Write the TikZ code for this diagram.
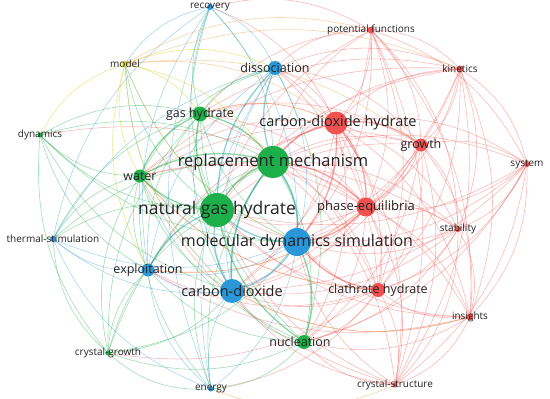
\documentclass[tikz,border=0pt]{standalone}
\usepackage{fontspec}
\setmainfont{Open Sans}
\usetikzlibrary{backgrounds}
\definecolor{vred}{HTML}{F03E3E}
\definecolor{vgreen}{HTML}{1DB04A}
\definecolor{vblue}{HTML}{2A98D8}
\definecolor{vyellow}{HTML}{D4D41E}
\definecolor{vorange}{HTML}{F0A040}
\definecolor{lbl}{HTML}{222222}
\tikzset{
  vnode/.style={circle, inner sep=0pt, minimum size=#1},
  rn/.style={vnode=#1, fill=vred!90!white},
  gn/.style={vnode=#1, fill=vgreen},
  bn/.style={vnode=#1, fill=vblue},
  yn/.style={vnode=#1, fill=vyellow},
  lab/.style={text=lbl, inner sep=0pt, anchor=center, font=\fontsize{#1}{#1}\selectfont},
  redge/.style={draw=vred, draw opacity=0.36, line width=0.6pt},
  gedge/.style={draw=vgreen, draw opacity=0.42, line width=0.6pt},
  bedge/.style={draw=vblue, draw opacity=0.4, line width=0.6pt},
  yedge/.style={draw=vyellow, draw opacity=0.5, line width=0.6pt},
  oedge/.style={draw=vorange, draw opacity=0.45, line width=0.6pt},
  strong/.style={line width=1.6pt, draw opacity=0.3},
}
% curved connector that bulges away from the picture centre
\newcommand\vedge[3]{%
  \path (#2.center); \pgfgetlastxy{\vax}{\vay}%
  \path (#3.center); \pgfgetlastxy{\vbx}{\vby}%
  \pgfmathsetmacro\vcr{(\vbx-\vax)/100*(-200pt-\vay)-(\vby-\vay)/100*(275pt-\vax)}%
  \ifdim\vcr pt>0pt
    \draw[#1] (#2.center) to[bend right=22] (#3.center);%
  \else
    \draw[#1] (#2.center) to[bend left=22] (#3.center);%
  \fi}
\begin{document}
\begin{tikzpicture}[x=1pt,y=-1pt]
\useasboundingbox (0,0) rectangle (550,399);
% circles
\node[bn=6pt] (rec) at (210,7) {};
\node[yn=6pt] (mod) at (125,64) {};
\node[bn=14pt] (dis) at (275,68) {};
\node[gn=15pt] (gh) at (200,114) {};
\node[gn=5pt] (dyn) at (40,135) {};
\node[gn=13pt] (wat) at (140,176) {};
\node[rn=7pt] (pf) at (371,30) {};
\node[rn=7pt] (kin) at (460,69) {};
\node[rn=23pt] (cdh) at (336,123) {};
\node[rn=13pt] (gro) at (421,145) {};
\node[rn=6pt] (sys) at (527,164) {};
\node[gn=32pt] (rm) at (273,162) {};
\node[gn=34pt] (ngh) at (217,210) {};
\node[rn=19pt] (pe) at (366,207) {};
\node[bn=28pt] (mds) at (297,242) {};
\node[bn=13pt] (exp) at (148,270) {};
\node[bn=24pt] (cd) at (232,291) {};
\node[rn=14pt] (clh) at (378,290) {};
\node[rn=6pt] (stab) at (458,229) {};
\node[bn=6pt] (ts) at (53,239) {};
\node[rn=7pt] (ins) at (470,317) {};
\node[gn=14pt] (nuc) at (304,342) {};
\node[gn=5pt] (cg) at (108,353) {};
\node[bn=5pt] (en) at (211,389) {};
\node[rn=5pt] (cs) at (395,385) {};
% connectors
\begin{scope}[on background layer]
\foreach \b in {rm,ngh,mds,cd,pe,dis,gh,wat,clh,gro,exp,nuc,pf,kin,sys,stab,ins,cs,rec}
  \vedge{redge}{cdh}{\b};
\foreach \b in {rm,ngh,mds,cd,dis,gh,wat,clh,gro,exp,nuc,pf,kin,sys,stab,ins,cs,dyn}
  \vedge{redge}{pe}{\b};
\foreach \b in {rm,ngh,mds,cd,dis,gh,wat,gro,exp,nuc,pf,kin,sys,stab,ins,cs,cg,en}
  \vedge{redge}{clh}{\b};
\foreach \b in {rm,ngh,mds,cd,dis,gh,wat,nuc,pf,kin,sys,stab,ins,cs}
  \vedge{redge}{gro}{\b};
\foreach \b in {rm,ngh,mds,cd,kin,sys,stab,ins,cs,dis,gh,rec}
  \vedge{redge}{pf}{\b};
\foreach \b in {rm,ngh,mds,cd,sys,stab,ins,cs,dis,gh,wat}
  \vedge{redge}{kin}{\b};
\foreach \b in {rm,ngh,mds,cd,stab,ins,cs,nuc}
  \vedge{redge}{sys}{\b};
\foreach \b in {rm,ngh,mds,cd,ins,cs,nuc,wat}
  \vedge{redge}{stab}{\b};
\foreach \b in {rm,ngh,mds,cd,cs,nuc,exp}
  \vedge{redge}{ins}{\b};
\foreach \b in {rm,ngh,mds,cd,nuc,wat}
  \vedge{redge}{cs}{\b};
\foreach \b in {ngh,mds,cd,dis,gh,wat,exp,nuc,rec,ts,en,cg,dyn}
  \vedge{gedge}{rm}{\b};
\foreach \b in {mds,cd,dis,gh,wat,exp,nuc,rec,ts,en,cg,dyn,mod}
  \vedge{gedge}{ngh}{\b};
\foreach \b in {mds,cd,dis,wat,exp,nuc,rec,dyn,cg,ts}
  \vedge{gedge}{gh}{\b};
\foreach \b in {mds,cd,dis,exp,nuc,dyn,cg,ts,en}
  \vedge{gedge}{wat}{\b};
\foreach \b in {mds,cd,dis,exp,cg,en}
  \vedge{gedge}{nuc}{\b};
\foreach \b in {mds,cd,exp,cg}
  \vedge{gedge}{dyn}{\b};
\foreach \b in {mds,cd,exp,en,ts}
  \vedge{gedge}{cg}{\b};
\foreach \b in {cd,dis,exp,rec,ts,en,mod}
  \vedge{bedge}{mds}{\b};
\foreach \b in {dis,exp,rec,ts,en,mod}
  \vedge{bedge}{cd}{\b};
\foreach \b in {exp,rec,ts,en}
  \vedge{bedge}{dis}{\b};
\foreach \b in {rec,ts,en}
  \vedge{bedge}{exp}{\b};
\foreach \b in {ts,en,mod}
  \vedge{bedge}{rec}{\b};
\vedge{bedge}{ts}{en};
\foreach \b in {gh,wat,rm,mds,dyn,dis,cd,exp}
  \vedge{yedge}{mod}{\b};
\foreach \b in {kin,pf,cdh,gro}
  \vedge{oedge}{mod}{\b};
\foreach \a/\b in {cs/en,pe/exp,clh/wat,cdh/gh,ins/cd}
  \vedge{oedge}{\a}{\b};
% strong links
\foreach \a/\b in {ngh/rm,ngh/gh,rm/gh,ngh/wat,rm/wat,ngh/nuc,rm/mds,rm/cd,gh/wat,nuc/mds}
  \vedge{gedge,strong}{\a}{\b};
\foreach \a/\b in {mds/ngh,mds/rm,cd/ngh,cd/mds,cd/rm,dis/rm,dis/ngh,exp/ngh}
  \vedge{bedge,strong}{\a}{\b};
\foreach \a/\b in {cdh/rm,cdh/pe,pe/mds,cdh/mds,clh/mds,pe/rm,gro/cdh}
  \vedge{redge,strong}{\a}{\b};
\end{scope}
% labels
\node[lab=10] (l-rec) at (rec) {recovery};
\node[lab=10] (l-mod) at (mod) {model};
\node[lab=12.5] (l-dis) at (dis) {dissociation};
\node[lab=12.5] (l-gh) at (gh) {gas hydrate};
\node[lab=10] (l-dyn) at (dyn) {dynamics};
\node[lab=12.5] (l-wat) at (wat) {water};
\node[lab=10] (l-pf) at (pf) {potential functions};
\node[lab=10] (l-kin) at (kin) {kinetics};
\node[lab=14.5] (l-cdh) at (338,123) {carbon-dioxide hydrate};
\node[lab=12.5] (l-gro) at (gro) {growth};
\node[lab=10] (l-sys) at (sys) {system};
\node[lab=16.5] (l-rm) at (rm) {replacement mechanism};
\node[lab=17.5] (l-ngh) at (ngh) {natural gas hydrate};
\node[lab=13] (l-pe) at (pe) {phase-equilibria};
\node[lab=16] (l-mds) at (mds) {molecular dynamics simulation};
\node[lab=12.5] (l-exp) at (exp) {exploitation};
\node[lab=14.5] (l-cd) at (cd) {carbon-dioxide};
\node[lab=12.5] (l-clh) at (clh) {clathrate hydrate};
\node[lab=10] (l-stab) at (stab) {stability};
\node[lab=10] (l-ts) at (ts) {thermal-stimulation};
\node[lab=10] (l-ins) at (ins) {insights};
\node[lab=12.5] (l-nuc) at (300,342) {nucleation};
\node[lab=10] (l-cg) at (cg) {crystal-growth};
\node[lab=10] (l-en) at (en) {energy};
\node[lab=10] (l-cs) at (cs) {crystal-structure};
\end{tikzpicture}
\end{document}
